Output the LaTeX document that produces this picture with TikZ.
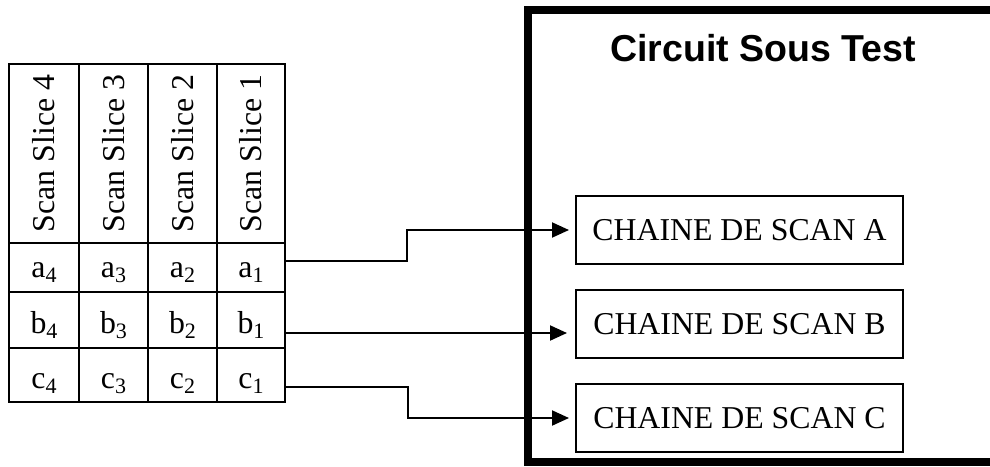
\documentclass[tikz,border=0pt]{standalone}
\usepackage{fontspec}
\setmainfont{Liberation Serif}
\newfontfamily\titlefont{Liberation Sans}
\usetikzlibrary{arrows.meta,calc}
\newcommand\mysub[1]{\raisebox{-5.5pt}{\fontsize{22}{24}\selectfont #1}}
\begin{document}
\begin{tikzpicture}[x=1pt,y=-1pt,
  font=\fontsize{31.8}{36}\selectfont,
  cellbox/.style={draw,line width=1.7pt,inner sep=0pt,rectangle},
  hcell/.style={cellbox,minimum width=#1,minimum height=179pt},
  celltext/.style={anchor=base,inner sep=0pt},
  headtext/.style={rotate=90,inner sep=0pt},
  chain/.style={draw,line width=2pt,rectangle,minimum width=327pt,minimum height=68pt,inner sep=0pt,text height=21pt,text depth=0pt},
  conn/.style={draw,line width=2pt,-{Triangle[length=17pt,width=15pt]}},
  bigbox/.style={draw,line width=8pt}]
\useasboundingbox (0,0) rectangle (990,466);
\fill[white] (0,0) rectangle (990,466);
% circuit under test (open to the right, clipped)
\begin{scope}
\clip (0,0) rectangle (990,466);
\draw[bigbox] (1010,10) -- (528,10) -- (528,462) -- (1010,462);
\end{scope}
\node[anchor=base,inner sep=0pt,font=\titlefont\bfseries\fontsize{37.5}{40}\selectfont] (title) at (763,61) {Circuit Sous Test};
% header cells
\node[hcell=70pt] (h4) at (44,153.5) {};
\node[hcell=69pt] (h3) at (113.5,153.5) {};
\node[hcell=69pt] (h2) at (182.5,153.5) {};
\node[hcell=68pt] (h1) at (251,153.5) {};
\node[headtext] (th4) at (h4.center) {Scan Slice 4};
\node[headtext] (th3) at (h3.center) {Scan Slice 3};
\node[headtext] (th2) at (h2.center) {Scan Slice 2};
\node[headtext] (th1) at (h1.center) {Scan Slice 1};
% row a
\node[cellbox,minimum width=70pt,minimum height=49pt] (a4) at (44,267.5) {};
\node[cellbox,minimum width=69pt,minimum height=49pt] (a3) at (113.5,267.5) {};
\node[cellbox,minimum width=69pt,minimum height=49pt] (a2) at (182.5,267.5) {};
\node[cellbox,minimum width=68pt,minimum height=49pt] (a1) at (251,267.5) {};
% row b
\node[cellbox,minimum width=70pt,minimum height=56pt] (b4) at (44,320) {};
\node[cellbox,minimum width=69pt,minimum height=56pt] (b3) at (113.5,320) {};
\node[cellbox,minimum width=69pt,minimum height=56pt] (b2) at (182.5,320) {};
\node[cellbox,minimum width=68pt,minimum height=56pt] (b1) at (251,320) {};
% row c
\node[cellbox,minimum width=70pt,minimum height=54pt] (c4) at (44,375) {};
\node[cellbox,minimum width=69pt,minimum height=54pt] (c3) at (113.5,375) {};
\node[cellbox,minimum width=69pt,minimum height=54pt] (c2) at (182.5,375) {};
\node[cellbox,minimum width=68pt,minimum height=54pt] (c1) at (251,375) {};
% cell texts
\node[celltext] (ta4) at (44,277) {a\mysub{4}};
\node[celltext] (ta3) at (113.5,277) {a\mysub{3}};
\node[celltext] (ta2) at (182.5,277) {a\mysub{2}};
\node[celltext] (ta1) at (251,277) {a\mysub{1}};
\node[celltext] (tb4) at (44,333) {b\mysub{4}};
\node[celltext] (tb3) at (113.5,333) {b\mysub{3}};
\node[celltext] (tb2) at (182.5,333) {b\mysub{2}};
\node[celltext] (tb1) at (251,333) {b\mysub{1}};
\node[celltext] (tc4) at (44,388) {c\mysub{4}};
\node[celltext] (tc3) at (113.5,388) {c\mysub{3}};
\node[celltext] (tc2) at (182.5,388) {c\mysub{2}};
\node[celltext] (tc1) at (251,388) {c\mysub{1}};
% scan chains
\node[chain] (chA) at (739.5,230) {CHAINE DE SCAN A};
\node[chain] (chB) at (739.5,324) {CHAINE DE SCAN B};
\node[chain] (chC) at (739.5,418) {CHAINE DE SCAN C};
% connectors
\draw[conn,shorten >=6pt] ([yshift=6.5pt]a1.east) -- ++(121,0) |- (chA.west);
\draw[conn,shorten >=8pt] ([yshift=-13pt]b1.east) coordinate (sb) -- (sb -| chB.west);
\draw[conn,shorten >=6pt] ([yshift=-12pt]c1.east) -- ++(122,0) |- (chC.west);
\end{tikzpicture}
\end{document}
